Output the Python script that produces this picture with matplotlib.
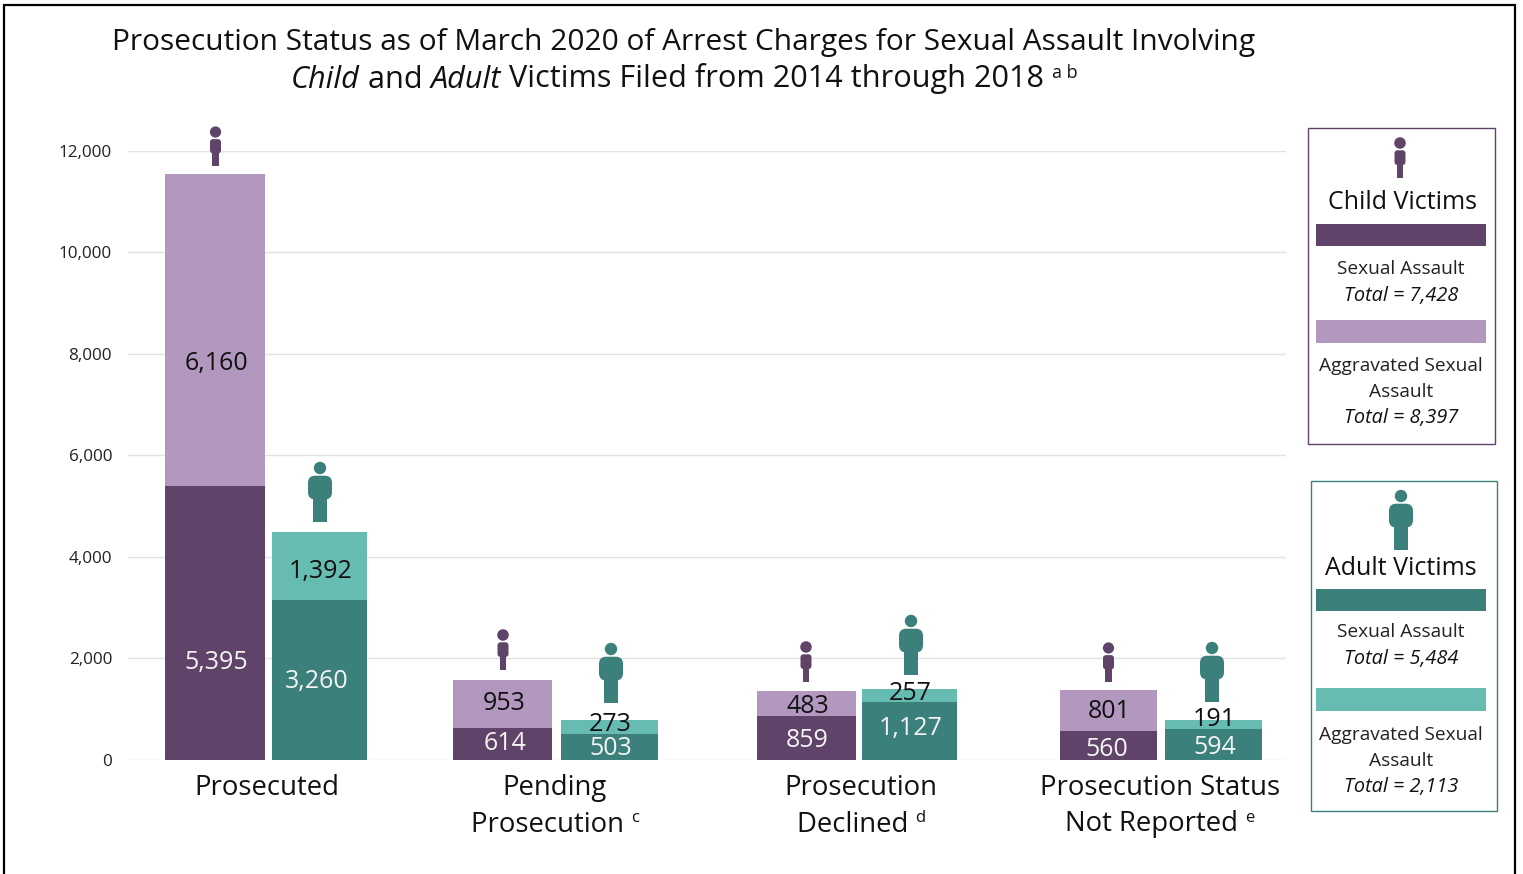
import matplotlib
matplotlib.use('Agg')
import matplotlib.pyplot as plt
from matplotlib.patches import Rectangle, Circle, FancyBboxPatch

# ---- data ----
categories = ['Prosecuted', 'Pending\nProsecution', 'Prosecution\nDeclined', 'Prosecution Status\nNot Reported']
child_sa = [5395, 614, 859, 560]
child_ag = [6160, 953, 483, 801]
adult_sa = [3260, 503, 1127, 594]
adult_ag = [1392, 273, 257, 191]
# the first adult bar is drawn shorter in the picture than its printed labels say
adult_sa_drawn = [3146, 503, 1127, 594]
adult_ag_drawn = [1341, 273, 257, 191]
yticks = [0, 2000, 4000, 6000, 8000, 10000, 12000]

# ---- style ----
PURPLE_D, PURPLE_L = '#5F4369', '#B298BF'
TEAL_D, TEAL_L = '#3B807A', '#67BCB2'
GRID = '#E2E2E2'
FONT = 'Open Sans'
W, H = 1523, 874
plt.rcParams['font.family'] = [FONT, 'DejaVu Sans']

fig = plt.figure(figsize=(W / 100, H / 100), dpi=100, facecolor='white')

# main axes: x axis is laid out in reference pixels
AX_L, AX_R, AX_T, AX_B = 128, 1286, 151, 759.5
ax = fig.add_axes([AX_L / W, 1 - AX_B / H, (AX_R - AX_L) / W, (AX_B - AX_T) / H])
ax.set_xlim(AX_L, AX_R)
ax.set_ylim(0, 12000)
ax.set_facecolor('none')
for s in ax.spines.values():
    s.set_visible(False)
ax.set_axisbelow(True)
ax.yaxis.grid(True, color=GRID, lw=1.0)
ax.xaxis.set_visible(False)
ax.set_yticks(yticks, [f'{v:,}' for v in yticks], fontsize=12.3, color='#222222')
ax.tick_params(axis='y', length=0, pad=11.5)

# layout (pixels): left/right edge of each bar
child_x = [(165, 265), (453, 552), (757, 856), (1060, 1157)]
adult_x = [(272, 367), (561, 658), (862, 957), (1165, 1262)]
# nudges of value labels from the segment centre (pixels, +down)
nudge = {'csa': [40, 0, 3, 4], 'cag': [34, -1, 3, 1], 'asa': [2, 2, -2, 3], 'aag': [6, -3, -2, -5]}
nudge_x = {'csa': [0, 1.5, 0, -2.5], 'cag': [0, 1, 0, 0], 'asa': [-3.5, 0, 0, 0], 'aag': [0, 0, 0, 0]}


def stack(xs, lower, upper, lab_low, lab_up, c_low, c_up, k_low, k_up):
    for i, (l, r) in enumerate(xs):
        ax.bar((l + r) / 2, lower[i], width=r - l, color=c_low, lw=0, zorder=3)
        ax.bar((l + r) / 2, upper[i], bottom=lower[i], width=r - l, color=c_up, lw=0, zorder=3)
        for val, lab, base, col, key in ((lower[i], lab_low[i], 0, '#F4F4F4', k_low),
                                         (upper[i], lab_up[i], lower[i], '#111111', k_up)):
            ax.annotate(f'{lab:,}', xy=((l + r) / 2 + 1, base + val / 2),
                        xytext=(nudge_x[key][i] * 0.72, -nudge[key][i] * 0.72),
                        textcoords='offset points', ha='center', va='center', fontsize=18, color=col, zorder=4)


stack(child_x, child_sa, child_ag, child_sa, child_ag, PURPLE_D, PURPLE_L, 'csa', 'cag')
stack(adult_x, adult_sa_drawn, adult_ag_drawn, adult_sa, adult_ag, TEAL_D, TEAL_L, 'asa', 'aag')

# overlay in pixel coordinates
ov = fig.add_axes([0, 0, 1, 1])
ov.set_xlim(0, W)
ov.set_ylim(H, 0)
ov.axis('off')
ov.patch.set_alpha(0)

# outer frame (open at the bottom edge of the image)
ov.plot([4, 4, 1515, 1515], [H, 5, 5, H], color='black', lw=1.6, solid_joinstyle='miter', clip_on=False)


def runs(y, parts, cx, size, color='#111111'):
    """Draw mixed-style text parts on a single line, centred on cx."""
    r = fig.canvas.get_renderer()
    arts = []
    for txt, kw in parts:
        k = dict(fontsize=size, color=color, va='baseline', ha='left')
        k.update(kw)
        dy = k.pop('dy', 0)
        arts.append((ov.text(0, y - dy, txt, **k), y - dy))
    widths = []
    for (a, _), (txt, _k) in zip(arts, parts):
        # keep trailing spaces in the measurement
        w0 = ov.text(0, 0, 'x' + txt + 'x', fontsize=a.get_fontsize(), style=a.get_style())
        w1 = ov.text(0, 0, 'xx', fontsize=a.get_fontsize(), style=a.get_style())
        widths.append(w0.get_window_extent(r).width - w1.get_window_extent(r).width)
        w0.remove()
        w1.remove()
    x = cx - sum(widths) / 2
    for (a, yy), w in zip(arts, widths):
        a.set_position((x, yy))
        x += w


def person(cx, head_y, bottom, scale_w, color):
    """Pictogram: head, rounded torso, single leg block."""
    total = bottom - head_y
    r = 0.115 * total if scale_w > 1 else 0.165 * total
    ov.add_patch(Circle((cx, head_y), r, color=color, lw=0, zorder=6))
    top = head_y + r + 1.5
    body_w = (24 if scale_w > 1 else 11)
    body_h = total * (0.44 if scale_w > 1 else 0.42)
    rad = body_w * 0.3
    ov.add_patch(FancyBboxPatch((cx - body_w / 2 + rad, top + rad), body_w - 2 * rad, body_h - 2 * rad,
                                boxstyle=f'round,pad={rad}', color=color, lw=0, zorder=6))
    leg_w = body_w * 0.55
    ov.add_patch(Rectangle((cx - leg_w / 2, top + body_h * 0.6), leg_w, bottom - top - body_h * 0.6,
                           color=color, lw=0, zorder=6))


# pictograms over the bars (centre, head-centre y, foot y)
for cx, hy, by in [(215.5, 132, 166), (503, 635, 670), (806, 647, 682), (1108.5, 648, 682)]:
    person(cx, hy, by, 1, PURPLE_D)
for cx, hy, by in [(320, 468, 522), (611, 649, 703), (911, 621, 675), (1212, 648, 702)]:
    person(cx, hy, by, 2, TEAL_D)

# title
TS = 21.55
ov.text(684, 50, 'Prosecution Status as of March 2020 of Arrest Charges for Sexual Assault Involving',
        ha='center', va='baseline', fontsize=TS, color='#111111')
runs(87.5, [('Child', dict(style='italic')), (' and ', {}), ('Adult', dict(style='italic')),
            (' Victims Filed from 2014 through 2018 ', {}), ('a b', dict(fontsize=13, dy=9))], 684, 22.05)

# category labels
CS = 19.8
cat_cx = [267, 555, 861, 1160]
sups = [None, 'c', 'd', 'e']
for name, cx, sup in zip(categories, cat_cx, sups):
    lines = name.split('\n')
    runs(795, [(lines[0], {})], cx, CS)
    if len(lines) > 1:
        runs(831.5, [(lines[1] + ' ', {}), (sup, dict(fontsize=12, dy=10))], cx, CS)


# legend boxes
def legend(box, edge, icon, title, title_y, dark, light, sw1, sw2, total1, total2, ys):
    x0, y0, x1, y1 = box
    ov.add_patch(Rectangle((x0, y0), x1 - x0, y1 - y0, fill=False, ec=edge, lw=1.0))
    person(*icon, edge)
    ov.text(1402.5 if title.startswith('Child') else 1401, title_y, title, ha='center', va='baseline',
            fontsize=18, color='#111111')
    ov.add_patch(Rectangle((1316, sw1), 170.5, 22, color=dark, lw=0))
    ov.add_patch(Rectangle((1316, sw2), 170.5, 22.5, color=light, lw=0))
    s = 13.8
    ov.text(1401, ys[0], 'Sexual Assault', ha='center', va='baseline', fontsize=s, color='#222222')
    ov.text(1401, ys[1], total1, ha='center', va='baseline', fontsize=14.3, style='italic', color='#111111')
    ov.text(1401, ys[2], 'Aggravated Sexual', ha='center', va='baseline', fontsize=s, color='#222222')
    ov.text(1401, ys[3], 'Assault', ha='center', va='baseline', fontsize=s, color='#222222')
    ov.text(1401, ys[4], total2, ha='center', va='baseline', fontsize=14.3, style='italic', color='#111111')


legend((1308, 128, 1495, 444), PURPLE_D, (1400, 143, 178, 1), 'Child Victims', 209, PURPLE_D, PURPLE_L, 224, 320,
       'Total = 7,428', 'Total = 8,397', [274, 301, 371, 397, 423])
legend((1311, 481, 1497, 811), TEAL_D, (1401, 496, 550, 2), 'Adult Victims', 575, TEAL_D, TEAL_L, 589, 688,
       'Total = 5,484', 'Total = 2,113', [637, 664, 740, 766, 792])

fig.savefig('out.png', dpi=100, facecolor='white')
